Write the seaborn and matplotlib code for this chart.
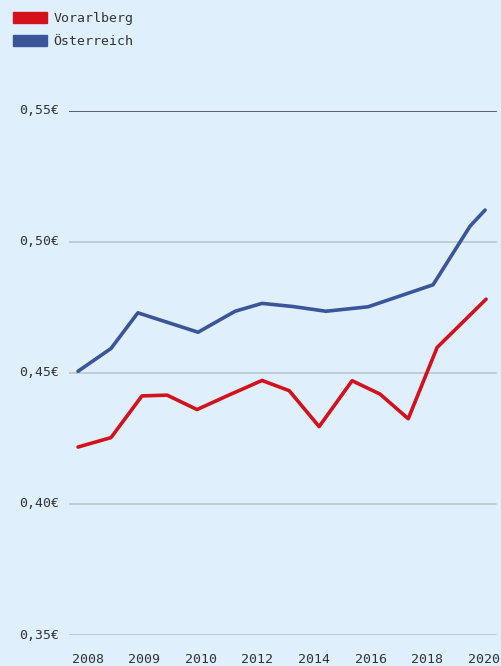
import numpy as np
import pandas as pd
import matplotlib
matplotlib.use("Agg")
import matplotlib.pyplot as plt
import seaborn as sns
from matplotlib.patches import Patch

# --- data ---
series_names = ["Vorarlberg", "Österreich"]
series_colors = ["#d4121e", "#3b5599"]

vbg_x = [2008.0, 2008.97, 2009.88, 2010.62, 2011.50, 2012.38, 2013.41,
         2014.21, 2015.09, 2016.06, 2016.88, 2017.71, 2018.56, 2020.0]
vbg_y = [0.4217, 0.4253, 0.4412, 0.4415, 0.4360, 0.4412, 0.4471,
         0.4432, 0.4295, 0.4470, 0.4419, 0.4325, 0.4597, 0.4781]

aut_x = [2008.0, 2008.97, 2009.76, 2011.53, 2012.62, 2013.41, 2014.32,
         2015.29, 2016.53, 2018.44, 2019.53, 2019.97]
aut_y = [0.4506, 0.4593, 0.4729, 0.4655, 0.4735, 0.4765, 0.4753,
         0.4735, 0.4752, 0.4836, 0.5060, 0.5121]

x_tick_labels = ["2008", "2009", "2010", "2012", "2014", "2016", "2018", "2020"]
y_ticks = [0.35, 0.40, 0.45, 0.50, 0.55]
y_tick_labels = ["0,35€", "0,40€", "0,45€", "0,50€", "0,55€"]

df = pd.concat([
    pd.DataFrame({"x": vbg_x, "y": vbg_y, "Region": series_names[0]}),
    pd.DataFrame({"x": aut_x, "y": aut_y, "Region": series_names[1]}),
], ignore_index=True)

# --- style ---
bg = "#dff0fc"
sns.set_theme(style="white")
plt.rcParams["font.family"] = ["DejaVu Sans Mono", "DejaVu Sans"]
plt.rcParams["figure.facecolor"] = bg
plt.rcParams["axes.facecolor"] = bg

W, H = 502, 666
fig = plt.figure(figsize=(W / 100, H / 100), dpi=100)
left, right, top, bottom = 69, 497, 110.7, 635
ax = fig.add_axes([left / W, 1 - bottom / H, (right - left) / W, (bottom - top) / H])

sns.lineplot(data=df, x="x", y="y", hue="Region", palette=series_colors,
             hue_order=series_names, estimator=None, sort=False,
             linewidth=2.6, ax=ax, legend=False, clip_on=False,
             solid_capstyle="round", solid_joinstyle="round")

ax.set_xlim(2007.735, 2020.32)
ax.set_ylim(0.35, 0.55)
ax.set_yticks(y_ticks)
ax.set_yticklabels(y_tick_labels)
ax.set_xticks(np.linspace(2008.28, 2019.94, len(x_tick_labels)))
ax.set_xticklabels(x_tick_labels)
ax.set_xlabel("")
ax.set_ylabel("")

tick_color = "#333333"
ax.tick_params(axis="both", length=0, labelsize=9.5, colors=tick_color)
ax.tick_params(axis="y", pad=7)
ax.tick_params(axis="x", pad=13)
for lab in ax.get_yticklabels():
    lab.set_verticalalignment("center")

for s in ax.spines.values():
    s.set_visible(False)

ax.yaxis.grid(True, color="#bccad3", linewidth=1.3)
ax.xaxis.grid(False)
ax.set_axisbelow(True)
glines = ax.get_ygridlines()
glines[-1].set_color("#5b5f66")
glines[-1].set_linewidth(1.4)

handles = [Patch(facecolor=c, edgecolor=c) for c in series_colors]
fig.legend(handles, series_names, loc="upper left",
           bbox_to_anchor=(13 / W, 1 - 12 / H), frameon=False,
           borderpad=0, borderaxespad=0, handlelength=2.6, handleheight=0.9,
           handletextpad=0.45, labelspacing=0.75,
           prop={"family": "DejaVu Sans Mono", "size": 9.5},
           labelcolor=tick_color)

fig.savefig("out.png", dpi=100, facecolor=bg)
